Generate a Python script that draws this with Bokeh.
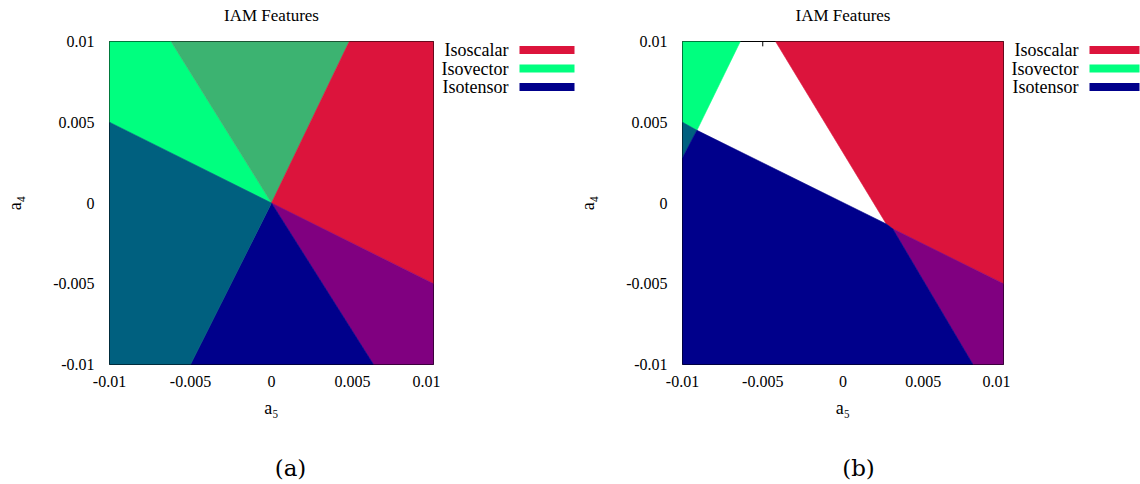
from bokeh.plotting import figure
from bokeh.models import Range1d, FixedTicker, Title
from bokeh.layouts import row, column
from bokeh.core.properties import value
from bokeh.embed import file_html
from bokeh.resources import INLINE

# ---------------- data ----------------
ticks = [-0.01, -0.005, 0.0, 0.005, 0.01]
tick_labels = ["-0.01", "-0.005", "0", "0.005", "0.01"]
legend_labels = ["Isoscalar", "Isovector", "Isotensor"]
x_label = "a\u2085"
y_label = "a\u2084"
title_text = "IAM Features"
captions = ["(a)", "(b)"]

# Panel (a): regions in the (a5, a4) plane
a_isovector_x = [-0.01, -0.0062, 0.0, -0.01]
a_isovector_y = [0.01, 0.01, 0.0, 0.005]
a_scalar_vector_x = [-0.0062, 0.0048, 0.0]
a_scalar_vector_y = [0.01, 0.01, 0.0]
a_isoscalar_x = [0.0048, 0.01, 0.01, 0.0]
a_isoscalar_y = [0.01, 0.01, -0.005, 0.0]
a_scalar_tensor_x = [0.0, 0.01, 0.01, 0.0063]
a_scalar_tensor_y = [0.0, -0.005, -0.01, -0.01]
a_isotensor_x = [0.0, 0.0063, -0.005]
a_isotensor_y = [0.0, -0.01, -0.01]
a_vector_tensor_x = [0.0, -0.005, -0.01, -0.01]
a_vector_tensor_y = [0.0, -0.01, -0.01, 0.005]

# Panel (b)
b_isovector_x = [-0.01, -0.0064, -0.0091, -0.01]
b_isovector_y = [0.01, 0.01, 0.0045, 0.005]
b_vector_tensor_x = [-0.01, -0.0091, -0.01]
b_vector_tensor_y = [0.005, 0.0045, 0.0028]
b_isoscalar_x = [-0.0042, 0.01, 0.01, 0.0031, 0.0027]
b_isoscalar_y = [0.01, 0.01, -0.005, -0.0016, -0.0013]
b_scalar_tensor_x = [0.0031, 0.01, 0.01, 0.0081]
b_scalar_tensor_y = [-0.0016, -0.005, -0.01, -0.01]
b_isotensor_x = [-0.01, -0.0091, 0.0027, 0.0031, 0.0081, -0.01]
b_isotensor_y = [0.0028, 0.0045, -0.0013, -0.0016, -0.01, -0.01]

# ---------------- styles ----------------
COL = {
    "Isoscalar": "#DC143C",
    "Isovector": "#00FF7F",
    "Isotensor": "#00008B",
    "Isoscalar+Isovector": "#3CB371",
    "Isovector+Isotensor": "#00607F",
    "Isoscalar+Isotensor": "#800080",
}
FONT = "Liberation Serif"
TOP_H = 430
CAP_H = 54
FRAME_TOP = 41
FRAME_H = 323

panel_a = [
    (a_isovector_x, a_isovector_y, "Isovector"),
    (a_scalar_vector_x, a_scalar_vector_y, "Isoscalar+Isovector"),
    (a_isoscalar_x, a_isoscalar_y, "Isoscalar"),
    (a_scalar_tensor_x, a_scalar_tensor_y, "Isoscalar+Isotensor"),
    (a_isotensor_x, a_isotensor_y, "Isotensor"),
    (a_vector_tensor_x, a_vector_tensor_y, "Isovector+Isotensor"),
]
panel_b = [
    (b_isovector_x, b_isovector_y, "Isovector"),
    (b_vector_tensor_x, b_vector_tensor_y, "Isovector+Isotensor"),
    (b_isoscalar_x, b_isoscalar_y, "Isoscalar"),
    (b_scalar_tensor_x, b_scalar_tensor_y, "Isoscalar+Isotensor"),
    (b_isotensor_x, b_isotensor_y, "Isotensor"),
]


def blank_fig(w, h, y0, y1):
    f = figure(width=w, height=h, output_backend="svg", toolbar_location=None,
               x_range=Range1d(0, w), y_range=Range1d(y0, y1),
               x_axis_type=None, y_axis_type=None, min_border=0)
    f.outline_line_color = None
    f.grid.visible = False
    f.background_fill_color = "white"
    f.border_fill_color = "white"
    return f


def make_plot(regions, width, border_left):
    frame_w = 324
    p = figure(width=width, height=TOP_H, output_backend="svg", toolbar_location=None,
               title=None,
               x_range=Range1d(ticks[0], ticks[-1]), y_range=Range1d(ticks[0], ticks[-1]),
               min_border_left=border_left, min_border_right=width - border_left - frame_w,
               min_border_top=FRAME_TOP, min_border_bottom=TOP_H - FRAME_TOP - FRAME_H)
    p.background_fill_color = "white"
    p.border_fill_color = "white"
    p.outline_line_color = "black"
    p.outline_line_width = 1
    p.grid.visible = False

    # spacer (nearest the frame) and the real title above it
    p.add_layout(Title(text=" ", text_font_size="13px", standoff=0), "above")
    p.add_layout(Title(text=title_text, align="center", text_font=FONT,
                       text_font_size="17px", text_font_style="normal",
                       text_color="black", standoff=0), "above")

    for ax in (p.xaxis[0], p.yaxis[0]):
        ax.ticker = FixedTicker(ticks=ticks)
        ax.major_label_overrides = {t: s for t, s in zip(ticks, tick_labels)}
        ax.axis_line_color = None
        ax.major_tick_in = 0
        ax.major_tick_out = 0
        ax.minor_tick_in = 0
        ax.minor_tick_out = 0
        ax.major_label_text_font = FONT
        ax.major_label_text_font_size = "16px"
        ax.major_label_text_color = "black"
        ax.axis_label_text_font = FONT
        ax.axis_label_text_font_size = "18px"
        ax.axis_label_text_font_style = "normal"
        ax.axis_label_text_color = "black"
    p.xaxis.axis_label = x_label
    p.yaxis.axis_label = y_label
    p.xaxis.major_label_standoff = 11
    p.xaxis.axis_label_standoff = 8
    p.yaxis.major_label_standoff = 15
    p.yaxis.axis_label_standoff = 25

    # inward (mirrored) tick marks, drawn beneath the filled regions
    tl = 0.0003
    lo, hi = ticks[0], ticks[-1]
    n = len(ticks)
    p.segment(x0=ticks, y0=[lo] * n, x1=ticks, y1=[lo + tl] * n, line_color="black")
    p.segment(x0=ticks, y0=[hi] * n, x1=ticks, y1=[hi - tl] * n, line_color="black")
    p.segment(x0=[lo] * n, y0=ticks, x1=[lo + tl] * n, y1=ticks, line_color="black")
    p.segment(x0=[hi] * n, y0=ticks, x1=[hi - tl] * n, y1=ticks, line_color="black")

    xs = [r[0] for r in regions]
    ys = [r[1] for r in regions]
    cols = [COL[r[2]] for r in regions]
    p.patches(xs=xs, ys=ys, fill_color=cols, line_color=cols, line_width=0.6)
    return p


def make_legend(w):
    # the frame of this figure is aligned with the plot frame (rows 41..364)
    f = blank_fig(w, TOP_H, FRAME_TOP + FRAME_H, FRAME_TOP)
    rows_y = [49.5, 68, 86.5]
    f.text(x=[68] * 3, y=rows_y, text=legend_labels, text_align="right",
           text_baseline="middle", text_font=value(FONT), text_font_size="18px",
           text_color="black")
    f.quad(left=[79] * 3, right=[w - 1] * 3, top=[y - 4 for y in rows_y],
           bottom=[y + 4 for y in rows_y], fill_color=[COL[l] for l in legend_labels],
           line_color=None)
    return f


def make_caption(w, cx, text):
    f = blank_fig(w, CAP_H, CAP_H, 0)
    f.text(x=[cx], y=[37], text=[text], text_align="center", text_baseline="middle",
           text_font=value("DejaVu Serif"), text_font_size="23px", text_color="black")
    return f


pa = make_plot(panel_a, 440, 109)
la = make_legend(135)
ca = make_caption(575, 290, captions[0])
pb = make_plot(panel_b, 435, 104)
lb = make_legend(130)
cb = make_caption(565, 283, captions[1])

layout = row(column(row(pa, la), ca), column(row(pb, lb), cb))
open("out.html", "w").write(file_html(layout, INLINE))
